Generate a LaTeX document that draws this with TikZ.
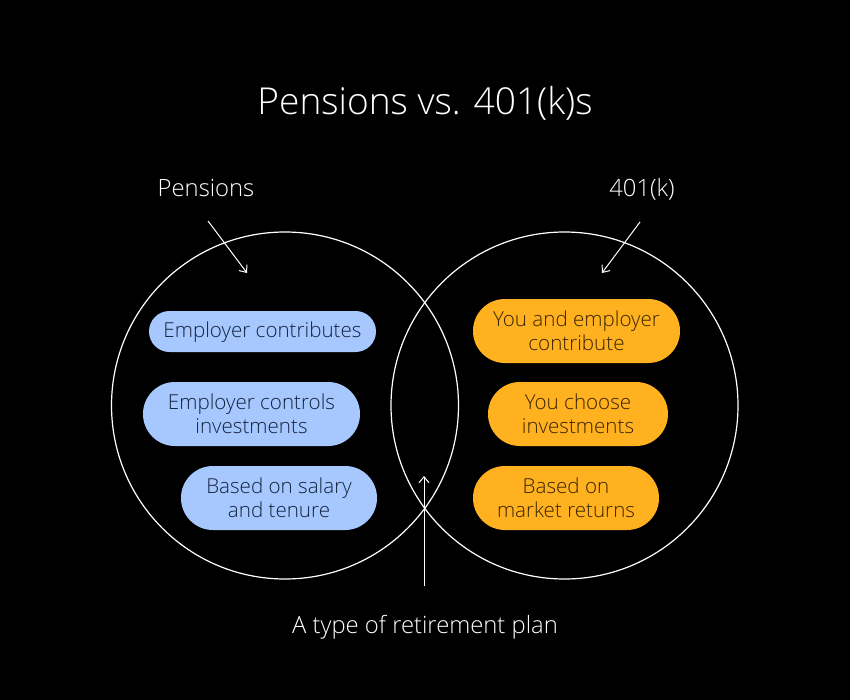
\documentclass[tikz,border=0pt]{standalone}
\usepackage{fontspec}
\setmainfont[UprightFont={* Light}]{Open Sans}
\usetikzlibrary{arrows.meta}
\definecolor{penblue}{HTML}{A6C8FF}
\definecolor{planorange}{HTML}{FFB11F}
\definecolor{bluetext}{HTML}{14233F}
\definecolor{orangetext}{HTML}{3A2500}

\begin{document}
\begin{tikzpicture}[x=1pt, y=-1pt,
  venn/.style = {shape=circle, draw=white, line width=1.2pt, minimum size=347pt, inner sep=0pt},
  pill/.style = {shape=rectangle, rounded corners=31.9pt, align=center, inner sep=0pt,
    minimum height=64pt, font=\fontsize{20.6}{24}\selectfont},
  bluepill/.style = {pill, fill=penblue, text=bluetext},
  orangepill/.style = {pill, fill=planorange, text=orangetext},
  label/.style = {text=white, inner sep=0pt, anchor=base, font=\fontsize{23.8}{27}\selectfont},
  pointer/.style = {draw=white, line width=1pt, -{Straight Barb[length=6pt,width=10pt]}}]
  \fill[black] (0,0) rectangle (850,700);
  \useasboundingbox (0,0) rectangle (850,700);

  \node[label, font=\fontsize{37.1}{44}\selectfont] (title) at (425,115) {Pensions vs. 401(k)s};
  \node[label] (penlabel) at (206,197) {Pensions};
  \node[label] (planlabel) at (642,197) {401(k)};
  \node[label] (shared) at (425,633.5) {A type of retirement plan};

  \node[venn] (pencircle) at (285,405.5) {};
  \node[venn] (plancircle) at (564.5,405.5) {};

  % left side
  \node[bluepill, minimum width=227pt, minimum height=41pt, rounded corners=20.4pt,
    text height=16pt, text depth=4pt] (pena) at (262.5,331.5) {Employer contributes};
  \node[bluepill, minimum width=217pt] (penb) at (251.5,414) {Employer controls\\investments};
  \node[bluepill, minimum width=196pt] (penc) at (279,498) {Based on salary\\and tenure};

  % right side
  \node[orangepill, minimum width=207pt] (plana) at (576.5,331) {You and employer\\contribute};
  \node[orangepill, minimum width=180pt] (planb) at (578,414) {You choose\\investments};
  \node[orangepill, minimum width=186pt] (planc) at (566,498) {Based on\\market returns};

  % arrows
  \coordinate (pentail) at (208,221);
  \coordinate (pentip) at (247,273);
  \coordinate (plantail) at (640,222);
  \coordinate (plantip) at (602,273);
  \coordinate (sharedtail) at (424,586);
  \coordinate (sharedtip) at (424,476);
  \draw[pointer] (pentail) -- (pentip);
  \draw[pointer] (plantail) -- (plantip);
  \draw[pointer] (sharedtail) -- (sharedtip);
\end{tikzpicture}
\end{document}
